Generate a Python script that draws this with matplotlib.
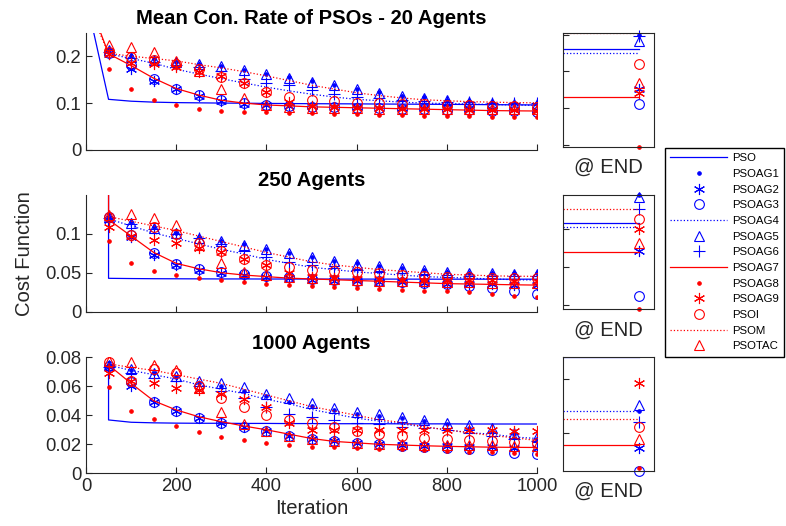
import numpy as np
import matplotlib
matplotlib.use('Agg')
from matplotlib import pyplot as plt
from matplotlib.ticker import FormatStrFormatter

plt.rcParams['font.family'] = ['Liberation Sans', 'DejaVu Sans']

nan = np.nan

# sample points of the markers, first point of the line series
iters = list(range(50, 1001, 50))
start_iter = [1, 50, 50]

names = ['PSO', 'PSOAG1', 'PSOAG2', 'PSOAG3', 'PSOAG4', 'PSOAG5', 'PSOAG6',
         'PSOAG7', 'PSOAG8', 'PSOAG9', 'PSOI', 'PSOM', 'PSOTAC']
line_names = ['PSO', 'PSOAG4', 'PSOAG7', 'PSOM']

titles = ['Mean Con. Rate of PSOs - 20 Agents', '250 Agents', '1000 Agents']

# ---- 20 agents ----
pso_20 = [0.32, .108, .104, .102, .101, .1005, .100, .0997, .0993, .099, .0987, .0985, .0983, .098, .0978, .0975, .0973, .097, .0966, .0963, .096]
ag1_20 = [.214, .200, .193, .188, .184, .178, .171, .163, .155, .146, .139, .130, .123, .116, .112, .107, .104, .102, .1005, .100]
ag2_20 = [.205, .172, .148, .129, .115, .105, .099, .096, .094, .093, .092, .091, .090, .0893, .0885, .0878, .087, .0863, .0858, .0853]
ag3_20 = [.207, .181, .152, .131, .117, .106, .101, .096, .094, .092, .091, .090, .089, .088, .087, .086, .085, .084, .0825, .081]
ag4_20 = [nan, .205, .195, .185, .172, .162, .152, .143, .134, .126, .119, .113, .108, .105, .102, .100, .099, .098, .097, .096, .095]
ag5_20 = [.213, .199, .192, .187, .183, .178, .171, .162, .154, .145, .138, .129, .122, .115, .111, .106, .103, .101, .099, .0983]
ag6_20 = [.208, .196, .188, .182, .176, .168, .152, .143, .138, .128, .120, .114, .110, .107, .105, .103, .102, .101, .100, .0996]
ag7_20 = [.33, .205, .180, .153, .131, .117, .106, .100, .096, .094, .092, .091, .090, .089, .088, .087, .086, .085, .084, .0835, .0831]
ag8_20 = [.172, .129, .106, .095, .088, .084, .082, .080, .079, .078, .077, .076, .075, .074, .073, .072, .0715, .071, .070, .0695]
ag9_20 = [.204, .185, .183, .176, .167, .157, .142, .124, .103, .094, .091, .090, .089, .088, .087, .0865, .086, .0852, .0845, .0841]
psoi_20 = [.209, .199, .191, .184, .172, .156, .142, .124, .113, .107, .104, .101, .100, .098, .097, .096, .095, .094, .093, .0921]
psom_20 = [.315, .206, .200, .195, .190, .182, .175, .167, .158, .148, .138, .130, .122, .116, .111, .107, .105, .103, .102, .101, .1005]
tac_20 = [.223, .220, .209, .190, .168, .131, .110, .096, .092, .090, .089, .0885, .088, .0878, .0875, .0873, .0872, .0871, .087, .0869]

# ---- 250 agents ----
pso_250 = [0.5, .0428, .0425, .0423, .0422, .0421, .042, .042, .0419, .0419, .0419, .0418, .0418, .0418, .0418, .0417, .0417, .0417, .0417, .0417, .0417]
ag1_250 = [.122, .115, .108, .101, .096, .091, .087, .081, .075, .070, .065, .062, .058, .0555, .053, .051, .050, .0495, .049, .049]
ag2_250 = [.118, .096, .073, .060, .054, .050, .047, .045, .043, .041, .040, .039, .038, .0375, .037, .036, .0355, .035, .0347, .0343]
ag3_250 = [.121, .098, .075, .061, .055, .051, .048, .046, .044, .042, .041, .040, .039, .038, .037, .035, .033, .031, .026, .0224]
ag4_250 = [nan, .119, .110, .101, .094, .087, .080, .074, .067, .062, .057, .054, .051, .049, .047, .045, .044, .043, .042, .041, .0406]
ag5_250 = [.121, .114, .107, .101, .095, .091, .086, .080, .075, .0705, .065, .0615, .058, .0555, .053, .051, .050, .049, .0485, .0485]
ag6_250 = [.120, .112, .106, .100, .094, .087, .078, .070, .064, .060, .056, .053, .051, .049, .048, .047, .046, .0458, .0456, .0454]
ag7_250 = [0.5, .118, .097, .076, .062, .055, .050, .047, .045, .043, .042, .041, .040, .039, .038, .037, .036, .0355, .035, .0345, .0341]
ag8_250 = [.091, .062, .0526, .047, .0436, .0406, .0385, .036, .034, .0333, .032, .030, .0286, .028, .027, .0265, .025, .023, .0205, .019]
ag9_250 = [.108, .097, .092, .088, .082, .077, .068, .060, .050, .045, .043, .042, .0415, .041, .0408, .0405, .0403, .0402, .040, .040]
psoi_250 = [.122, .098, .108, .100, .088, .078, .067, .060, .057, .053, .052, .051, .049, .047, .046, .045, .044, .0435, .043, .0427]
psom_250 = [nan, .122, .116, .110, .104, .097, .090, .083, .076, .070, .064, .060, .057, .054, .052, .050, .048, .047, .046, .0455, .0453]
tac_250 = [.124, .125, .120, .111, .086, .062, .051, .047, .044, .043, .042, .041, .040, .0395, .039, .038, .0375, .037, .0367, .0364]

# ---- 1000 agents ----
pso_1000 = [.074, .0368, .0352, .0348, .0346, .0345, .0345, .0344, .0344, .0343, .0343, .0342, .0342, .0342, .0341, .0341, .0341, .034, .034, .034, .034]
ag1_1000 = [.0745, .0715, .069, .0665, .0625, .060, .057, .0535, .0495, .0465, .0435, .041, .0395, .0378, .0358, .034, .0315, .0295, .027, .024]
ag2_1000 = [.073, .060, .049, .043, .038, .035, .032, .029, .026, .024, .022, .021, .020, .0195, .019, .0185, .018, .0178, .0175, .0172]
ag3_1000 = [.074, .063, .049, .043, .038, .035, .032, .029, .026, .024, .022, .021, .020, .019, .018, .0175, .017, .016, .014, .013]
ag4_1000 = [nan, .0745, .071, .068, .065, .061, .058, .055, .051, .048, .044, .041, .038, .036, .034, .032, .030, .028, .027, .025, .024]
ag5_1000 = [.0747, .0717, .0694, .067, .064, .062, .0593, .055, .0517, .0483, .045, .0425, .041, .039, .037, .035, .033, .031, .028, .0252]
ag6_1000 = [.073, .069, .066, .064, .060, .057, .052, .046, .041, .039, .037, .035, .034, .032, .031, .030, .028, .026, .024, .022]
ag7_1000 = [nan, .0747, .062, .050, .0437, .039, .0356, .0326, .030, .027, .024, .022, .021, .020, .0195, .019, .0186, .0183, .018, .0179, .0178]
ag8_1000 = [.0598, .0432, .0372, .0326, .0283, .0248, .0228, .0207, .0195, .0184, .018, .0175, .017, .0165, .016, .0155, .015, .0145, .014, .0135]
ag9_1000 = [.0694, .064, .062, .059, .0575, .055, .051, .0455, .035, .030, .030, .030, .030, .030, .030, .030, .0298, .0296, .0294, .0292]
psoi_1000 = [.077, .064, .072, .069, .060, .052, .0455, .040, .037, .0345, .032, .029, .027, .026, .0245, .0235, .023, .022, .0215, .0211]
psom_1000 = [nan, .0755, .073, .071, .068, .065, .062, .058, .054, .050, .046, .043, .040, .037, .035, .032, .030, .028, .026, .0245, .0226]
tac_1000 = [.0775, .077, .075, .071, .059, .042, .034, .029, .026, .0235, .022, .021, .0205, .020, .0198, .0196, .0194, .0192, .019, .0189]

panel_data = [
    [pso_20, ag1_20, ag2_20, ag3_20, ag4_20, ag5_20, ag6_20, ag7_20, ag8_20, ag9_20, psoi_20, psom_20, tac_20],
    [pso_250, ag1_250, ag2_250, ag3_250, ag4_250, ag5_250, ag6_250, ag7_250, ag8_250, ag9_250, psoi_250, psom_250, tac_250],
    [pso_1000, ag1_1000, ag2_1000, ag3_1000, ag4_1000, ag5_1000, ag6_1000, ag7_1000, ag8_1000, ag9_1000, psoi_1000, psom_1000, tac_1000],
]

ylims = [0.25, 0.15, 0.08]
yticks = [[0, 0.1, 0.2], [0, 0.05, 0.1], [0, 0.02, 0.04, 0.06, 0.08]]

ast = (6, 2, 0)
styles = {
    'PSO':    dict(color='b', ls='-', marker=''),
    'PSOAG1': dict(color='b', ls='none', marker='.', ms=5),
    'PSOAG2': dict(color='b', ls='none', marker=ast, ms=8),
    'PSOAG3': dict(color='b', ls='none', marker='o', ms=7, mfc='none'),
    'PSOAG4': dict(color='b', ls=':', marker=''),
    'PSOAG5': dict(color='b', ls='none', marker='^', ms=7.5, mfc='none'),
    'PSOAG6': dict(color='b', ls='none', marker='+', ms=8),
    'PSOAG7': dict(color='r', ls='-', marker=''),
    'PSOAG8': dict(color='r', ls='none', marker='.', ms=5),
    'PSOAG9': dict(color='r', ls='none', marker=ast, ms=8),
    'PSOI':   dict(color='r', ls='none', marker='o', ms=7, mfc='none'),
    'PSOM':   dict(color='r', ls=':', marker=''),
    'PSOTAC': dict(color='r', ls='none', marker='^', ms=7.5, mfc='none'),
}

W, H = 786, 526
fig = plt.figure(figsize=(W / 100, H / 100), dpi=100)

# pixel boxes (left, top, right, bottom)
main_boxes = [(86, 32.7, 537, 150), (86, 194.7, 537, 311.7), (86, 357.3, 537, 473.3)]
end_boxes = [(563, 32.7, 654, 146.7), (563, 195, 654, 309.3), (563, 357.3, 654, 470.7)]
end_x = 0.83

def px_axes(box):
    l, t, r, b = box
    return fig.add_axes([l / W, 1 - b / H, (r - l) / W, (b - t) / H])

gray = '0.15'
handles = []
for p in range(3):
    ax = px_axes(main_boxes[p])
    for name, vals in zip(names, panel_data[p]):
        st = dict(styles[name])
        if name in line_names:
            x = [start_iter[p]] + iters
        else:
            x = iters
        h, = ax.plot(x, vals, lw=0.9, mew=0.8, **st)
        if p == 0:
            handles.append(h)
    ax.set_xlim(0, 1000)
    ax.set_ylim(0, ylims[p])
    ax.set_yticks(yticks[p])
    ax.set_xticks(range(0, 1001, 200))
    ax.yaxis.set_major_formatter(FormatStrFormatter('%g'))
    if p < 2:
        ax.set_xticklabels([])
    for s in ['top', 'right']:
        ax.spines[s].set_visible(False)
    for s in ['left', 'bottom']:
        ax.spines[s].set_color(gray)
    ax.tick_params(direction='in', length=4, width=0.8, colors=gray, labelsize=13.3)
    ax.set_title(titles[p], fontsize=14.6, fontweight='bold', pad=6)
    if p == 1:
        ax.set_ylabel('Cost Function', fontsize=14.6, color=gray, labelpad=8)
    if p == 2:
        ax.set_xlabel('Iteration', fontsize=14.6, color=gray, labelpad=3)

    # final values panel
    ae = px_axes(end_boxes[p])
    finals = [vals[-1] for vals in panel_data[p]]
    for name, v in zip(names, finals):
        st = dict(styles[name])
        if name in line_names:
            ae.plot([0, end_x], [v, v], lw=0.9, **st)
        else:
            ae.plot([end_x], [v], lw=0.9, mew=0.8, clip_on=False, **st)
    ae.set_xlim(0, 1)
    ae.set_ylim(min(finals), max(finals))
    ae.set_xticks([])
    ae.set_yticklabels([])
    ae.tick_params(direction='in', length=4, width=0.8, colors=gray)
    for s in ae.spines.values():
        s.set_color(gray)
    ae.set_xlabel('@ END', fontsize=14.6, color=gray, labelpad=8)

fig.legend(handles, names, loc='upper left', bbox_to_anchor=(665 / W, 1 - 148 / H),
           borderaxespad=0, fontsize=8.2, handlelength=5.0, labelspacing=0.5,
           borderpad=0.45, handletextpad=0.45, frameon=True, fancybox=False,
           edgecolor='k', framealpha=1)

fig.savefig('out.png', dpi=100)
